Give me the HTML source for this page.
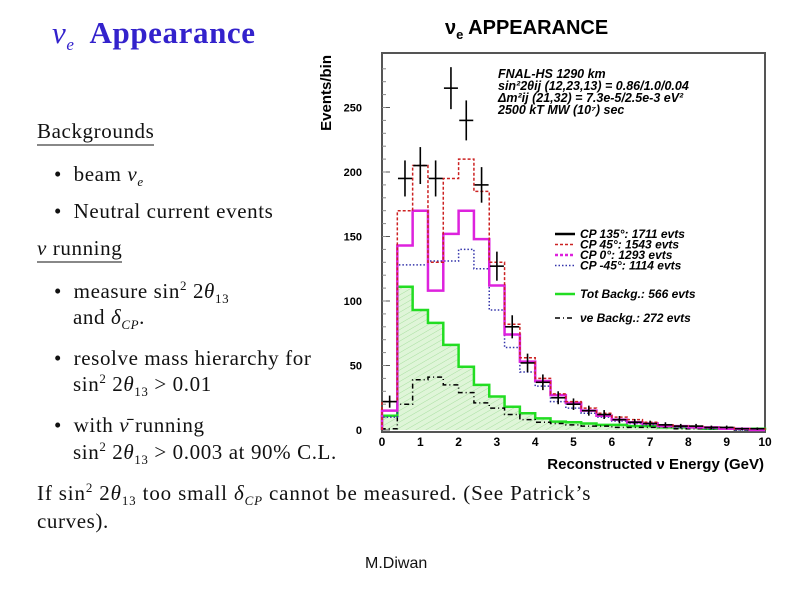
<!DOCTYPE html>
<html><head><meta charset="utf-8"><style>
body{margin:0;background:#fff;width:800px;height:600px;overflow:hidden;position:relative;font-family:"Liberation Serif",serif;}
.t{position:absolute;font-size:21px;letter-spacing:0.6px;color:#111;white-space:nowrap;line-height:1;}
.u{border-bottom:2px solid #888;padding-bottom:2px;}
i{font-style:italic}
sub,sup{font-size:13px;line-height:0}
</style></head><body>
<div class="t" style="left:52px;top:17px;font-size:31px;font-weight:bold;color:#3322cc;"><i style="font-weight:normal">ν<sub style="font-size:17px">e</sub></i>&nbsp; Appearance</div>
<div class="t u" style="left:37px;top:121px;">Backgrounds</div>
<div class="t" style="left:54px;top:164px;">•&nbsp; beam <i>ν<sub>e</sub></i></div>
<div class="t" style="left:54px;top:201px;">•&nbsp; Neutral current events</div>
<div class="t u" style="left:37px;top:238px;"><i>ν</i> running</div>
<div class="t" style="left:54px;top:281px;">•&nbsp; measure sin<sup>2</sup> 2<i>θ</i><sub>13</sub></div>
<div class="t" style="left:73px;top:307px;">and <i>δ<sub>CP</sub></i>.</div>
<div class="t" style="left:54px;top:348px;">•&nbsp; resolve mass hierarchy for</div>
<div class="t" style="left:73px;top:374px;">sin<sup>2</sup> 2<i>θ</i><sub>13</sub> &gt; 0.01</div>
<div class="t" style="left:54px;top:415px;">•&nbsp; with <i>ν̄</i> running</div>
<div class="t" style="left:73px;top:442px;">sin<sup>2</sup> 2<i>θ</i><sub>13</sub> &gt; 0.003 at 90% C.L.</div>
<div class="t" style="left:37px;top:483px;letter-spacing:0.85px;">If sin<sup>2</sup> 2<i>θ</i><sub>13</sub> too small <i>δ<sub>CP</sub></i> cannot be measured. (See Patrick’s</div>
<div class="t" style="left:37px;top:511px;">curves).</div>
<div class="t" style="left:365px;top:556px;font-family:'Liberation Sans',sans-serif;font-size:16px;letter-spacing:0;">M.Diwan</div>

<svg id="chart" width="800" height="600" style="position:absolute;left:0;top:0" font-family="Liberation Sans, sans-serif">
<defs><pattern id="hatch" width="5" height="5" patternUnits="userSpaceOnUse" patternTransform="rotate(-30)"><rect width="5" height="5" fill="#dff5d8"/><line x1="0" y1="0" x2="5" y2="0" stroke="#a8e0a0" stroke-width="1"/></pattern></defs>
</svg>
<script>
const binWidth=0.4;
const cp135=[22,195,205,195,265,240,190,127,80,52,37,25,20,15,12,8,6,5,4,3,3,2,2,1,1];
const cp45=[22,170,205,130,195,210,185,130,82,56,40,28,22,17,13,10,8,6,4,3,3,2,2,1,1];
const cp0=[15,143,170,108,152,170,148,112,74,53,38,27,21,15,11,8,6,5,3,3,2,2,1,1,0];
const cpm45=[10,128,128,131,131,140,125,93,64,45,34,22,17,13,10,7,5,4,3,2,2,1,1,0,0];
const totBkg=[11,111,93,83,66,49,35,26,18,13,9,6.5,6,5,4,4,3,3,2,2,2,1,1,1,1];
const nueBkg=[1,20,39,41,35,29,21,17,12,8,6,5,4,3,3,2,2,2,2,1,1,1,1,0,0];
const yTicks=[0,50,100,150,200,250];
const xTicks=[0,1,2,3,4,5,6,7,8,9,10];
const NS='http://www.w3.org/2000/svg';
const svg=document.getElementById('chart');
const X0=382,X1=765,Y0=430,YT=53;
const sx=v=>X0+v*(X1-X0)/10, sy=v=>Y0-v*1.29;
function el(t,a,p){const e=document.createElementNS(NS,t);for(const k in a)e.setAttribute(k,a[k]);(p||svg).appendChild(e);return e;}
function stepPath(arr){let d='M'+sx(0)+','+sy(0);arr.forEach((v,i)=>{d+=' L'+sx(i*binWidth)+','+sy(v)+' L'+sx((i+1)*binWidth)+','+sy(v);});d+=' L'+sx(arr.length*binWidth)+','+sy(0);return d;}
const fill=el('path',{d:stepPath(totBkg)+' Z',fill:'url(#hatch)',stroke:'none'});


const fr=el('rect',{x:X0,y:YT,width:X1-X0,height:Y0+2-YT,fill:'none',stroke:'#555','stroke-width':2});


yTicks.forEach(v=>{const t=el('text',{x:362,y:sy(v)+4,'font-size':11,'font-weight':'bold','text-anchor':'end'});t.textContent=v;


el('line',{x1:X0,x2:X0+8,y1:sy(v),y2:sy(v),stroke:'#555'});});
for(let v=10;v<290;v+=10){el('line',{x1:X0,x2:X0+4,y1:sy(v),y2:sy(v),stroke:'#888'});}
xTicks.forEach(v=>{const t=el('text',{x:sx(v),y:446,'font-size':12,'font-weight':'bold','text-anchor':'middle'});t.textContent=v;

});
function series(arr,name,style){const p=el('path',Object.assign({d:stepPath(arr),fill:'none'},style));

}
series(totBkg,'tot-backg-line',{stroke:'#22dd22','stroke-width':2.5});
series(nueBkg,'nue-backg-line',{stroke:'#000','stroke-width':1.5,'stroke-dasharray':'5,3,1,3'});
series(cpm45,'cp-minus45-line',{stroke:'#3333aa','stroke-width':1.5,'stroke-dasharray':'1.5,2'});
series(cp0,'cp0-line',{stroke:'#dd22dd','stroke-width':2.5});
series(cp45,'cp45-line',{stroke:'#cc2222','stroke-width':1.5,'stroke-dasharray':'3,2'});
cp135.forEach((v,i)=>{const cx=sx((i+0.5)*binWidth),e=Math.sqrt(v)*1.29;const g=el('g',{stroke:'#000','stroke-width':1.6});


el('line',{x1:cx-7,x2:cx+7,y1:sy(v),y2:sy(v)},g);el('line',{x1:cx,x2:cx,y1:sy(v)-e,y2:sy(v)+e},g);});
const ti=el('text',{x:445,y:34,'font-size':20,'font-weight':'bold'});ti.innerHTML='ν<tspan font-size="13" dy="5">e</tspan><tspan dy="-5"> APPEARANCE</tspan>';


const xt=el('text',{x:764,y:469,'font-size':15,'font-weight':'bold','text-anchor':'end'});xt.textContent='Reconstructed ν Energy (GeV)';


const yt=el('text',{x:0,y:0,'font-size':15,'font-weight':'bold','text-anchor':'end',transform:'translate(331,55) rotate(-90)'});yt.textContent='Events/bin';


const info=['FNAL-HS  1290 km','sin²2θij (12,23,13) = 0.86/1.0/0.04','Δm²ij (21,32) = 7.3e-5/2.5e-3 eV²','2500 kT MW (10⁷) sec'];
info.forEach((s,i)=>{const t=el('text',{x:498,y:78+i*12,'font-size':12.5,'font-weight':'bold','font-style':'italic'});t.textContent=s;

});
const leg=[['CP 135°: 1711 evts',{stroke:'#000','stroke-width':2.5},238],['CP 45°: 1543  evts',{stroke:'#cc2222','stroke-width':1.5,'stroke-dasharray':'3,2'},248.5],['CP 0°: 1293  evts',{stroke:'#dd22dd','stroke-width':2.5,'stroke-dasharray':'3,2'},259],['CP -45°: 1114  evts',{stroke:'#3333aa','stroke-width':1.5,'stroke-dasharray':'1.5,2'},269.5],['Tot Backg.: 566 evts',{stroke:'#22dd22','stroke-width':2.5},298],['νe Backg.: 272 evts',{stroke:'#000','stroke-width':1.5,'stroke-dasharray':'5,3,1,3'},322]];
leg.forEach(([s,st,y])=>{const l=el('line',Object.assign({x1:555,x2:575,y1:y-4,y2:y-4},st));


const t=el('text',{x:580,y:y,'font-size':12,'font-weight':'bold','font-style':'italic'});t.textContent=s;

});
</script>
</body></html>
